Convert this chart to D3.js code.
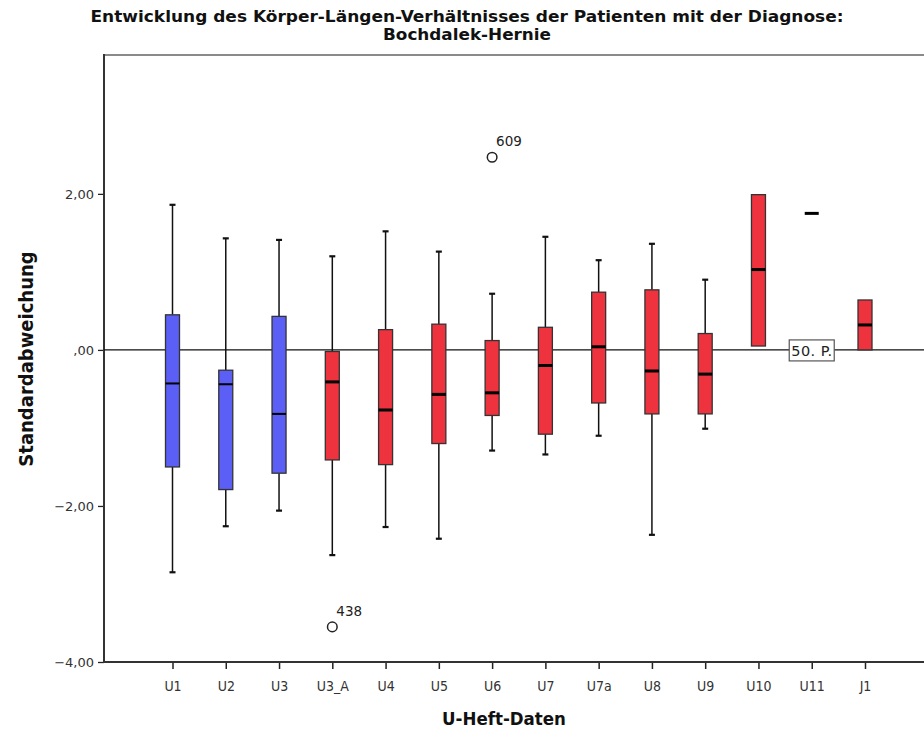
<!DOCTYPE html>
<html>
<head>
<meta charset="utf-8">
<script src="https://cdn.jsdelivr.net/npm/d3@7"></script>
<style>
  body { margin: 0; background: #fff; }
  svg text { font-family: "DejaVu Sans", sans-serif; }
</style>
</head>
<body>
<div id="chart"></div>
<script>
// U-Heft examinations
var categories = ["U1", "U2", "U3", "U3_A", "U4", "U5", "U6", "U7", "U7a", "U8", "U9", "U10", "U11", "J1"];
// first three boxes are blue, the rest red
var boxGroup = ["a", "a", "a", "b", "b", "b", "b", "b", "b", "b", "b", "b", "b", "b"];

// box plot statistics (standard deviation scores), null = not drawn
var whiskerHigh = [1.86, 1.43, 1.41, 1.20, 1.52, 1.26, 0.72, 1.45, 1.15, 1.36, 0.90, null, null, null];
var q3Values = [0.45, -0.26, 0.43, -0.02, 0.26, 0.33, 0.12, 0.29, 0.74, 0.77, 0.21, 1.99, null, 0.64];
var medianValues = [-0.43, -0.44, -0.82, -0.41, -0.77, -0.57, -0.55, -0.20, 0.04, -0.27, -0.31, 1.03, 1.75, 0.32];
var q1Values = [-1.50, -1.79, -1.58, -1.41, -1.47, -1.20, -0.84, -1.08, -0.68, -0.82, -0.82, 0.05, null, 0.00];
var whiskerLow = [-2.85, -2.26, -2.06, -2.63, -2.27, -2.42, -1.29, -1.34, -1.10, -2.37, -1.01, null, null, null];

// outliers
var outlierCats = ["U3_A", "U6"];
var outlierValues = [-3.55, 2.47];
var outlierIds = ["438", "609"];

var yTicks = [-4, -2, 0, 2];
var refValue = 0;

function drawChart() {
    var svgWidth = 924, svgHeight = 734;
    var margin = { left: 104, top: 55, bottom: 662, right: 924 };
    var condensed = "'DejaVu Sans Condensed', 'DejaVu Sans', sans-serif";

    var svg = d3.select("#chart").append("svg")
        .attr("width", svgWidth)
        .attr("height", svgHeight);

    var x = d3.scalePoint()
        .domain(categories)
        .range([172.5, 865]);

    var y = d3.scaleLinear()
        .domain([-4, 3.78])
        .range([margin.bottom, margin.top]);

    var colors = { a: "#5b5ff6", b: "#ee333f" };
    var fmt = function (v) {
        var s = d3.format(".2f")(v).replace(".", ",");
        return s.replace(/^0,/, ",").replace(/^-0,/, "-,");
    };

    // title
    var titleLines = ["Entwicklung des Körper-Längen-Verhältnisses der Patienten mit der Diagnose:", "Bochdalek-Hernie"];
    var titleLengths = [753, 168];
    titleLines.forEach(function (t, i) {
        svg.append("text")
            .attr("x", 467).attr("y", 22 + i * 18)
            .attr("text-anchor", "middle")
            .style("font-family", condensed)
            .attr("font-weight", "bold")
            .attr("font-size", "15.5px")
            .attr("fill", "#111")
            .attr("textLength", titleLengths[i])
            .attr("lengthAdjust", "spacingAndGlyphs")
            .text(t);
    });

    // frame: grey top line
    svg.append("line")
        .attr("x1", margin.left).attr("x2", margin.right)
        .attr("y1", margin.top).attr("y2", margin.top)
        .attr("stroke", "#8a8a8a").attr("stroke-width", 2);

    // y axis
    var yAxis = svg.append("g")
        .attr("transform", `translate(${margin.left},0)`)
        .call(d3.axisLeft(y).tickValues(yTicks).tickSize(6).tickFormat(fmt));
    yAxis.select(".domain").remove();
    yAxis.selectAll("line").attr("stroke", "#222").attr("stroke-width", 1.3);
    yAxis.selectAll("text").attr("font-size", "13px").attr("fill", "#333").attr("dx", "-1");
    svg.append("line")
        .attr("x1", margin.left).attr("x2", margin.left)
        .attr("y1", margin.top - 1).attr("y2", margin.bottom)
        .attr("stroke", "#333").attr("stroke-width", 2);

    // x axis
    var xAxis = svg.append("g")
        .attr("transform", `translate(0,${margin.bottom})`)
        .call(d3.axisBottom(x).tickSize(7).tickPadding(12));
    xAxis.select(".domain").remove();
    xAxis.selectAll("line").attr("stroke", "#222").attr("stroke-width", 1.5);
    xAxis.selectAll("text")
        .attr("font-size", "14px").attr("fill", "#333")
        .style("font-family", condensed);
    svg.append("line")
        .attr("x1", margin.left - 1).attr("x2", margin.right)
        .attr("y1", margin.bottom).attr("y2", margin.bottom)
        .attr("stroke", "#333").attr("stroke-width", 2);

    // axis titles
    svg.append("text")
        .attr("x", 504).attr("y", 725)
        .attr("text-anchor", "middle")
        .style("font-family", condensed)
        .attr("font-weight", "bold").attr("font-size", "18.5px").attr("fill", "#111")
        .text("U-Heft-Daten");

    svg.append("text")
        .attr("transform", `translate(33,359) rotate(-90)`)
        .attr("text-anchor", "middle")
        .style("font-family", condensed)
        .attr("font-weight", "bold").attr("font-size", "20px").attr("fill", "#111")
        .text("Standardabweichung");

    // build rows for the boxes
    var rows = categories.map((c, i) => ({
        cat: c, group: boxGroup[i],
        hi: whiskerHigh[i], q3: q3Values[i], med: medianValues[i],
        q1: q1Values[i], lo: whiskerLow[i]
    }));

    var boxW = 14, capW = 6;
    var plot = svg.append("g");

    // whiskers
    rows.filter(d => d.hi != null).forEach(function (d) {
        var cx = x(d.cat);
        plot.append("line").attr("x1", cx).attr("x2", cx)
            .attr("y1", y(d.hi)).attr("y2", y(d.q3))
            .attr("stroke", "#111").attr("stroke-width", 1.5);
        plot.append("line").attr("x1", cx).attr("x2", cx)
            .attr("y1", y(d.q1)).attr("y2", y(d.lo))
            .attr("stroke", "#111").attr("stroke-width", 1.5);
        [d.hi, d.lo].forEach(function (v) {
            plot.append("line")
                .attr("x1", cx - capW / 2).attr("x2", cx + capW / 2)
                .attr("y1", y(v)).attr("y2", y(v))
                .attr("stroke", "#111").attr("stroke-width", 2.2);
        });
    });

    // reference line (50. percentile)
    svg.append("line")
        .attr("x1", margin.left).attr("x2", margin.right)
        .attr("y1", y(refValue)).attr("y2", y(refValue))
        .attr("stroke", "#111").attr("stroke-width", 1.4);

    // boxes drawn above the reference line
    var boxes = svg.append("g");
    boxes.selectAll("rect.box")
        .data(rows.filter(d => d.q3 != null))
        .enter().append("rect")
        .attr("class", "box")
        .attr("x", d => x(d.cat) - boxW / 2)
        .attr("width", boxW)
        .attr("y", d => y(d.q3))
        .attr("height", d => y(d.q1) - y(d.q3))
        .attr("fill", d => colors[d.group])
        .attr("stroke", "#333")
        .attr("stroke-width", 1.3);

    // medians
    boxes.selectAll("line.med")
        .data(rows)
        .enter().append("line")
        .attr("class", "med")
        .attr("x1", d => x(d.cat) - boxW / 2)
        .attr("x2", d => x(d.cat) + boxW / 2)
        .attr("y1", d => y(d.med))
        .attr("y2", d => y(d.med))
        .attr("stroke", "#000")
        .attr("stroke-width", d => d.group === "a" ? 2 : 3);

    // outliers
    outlierCats.forEach(function (c, i) {
        var cx = x(c), cy = y(outlierValues[i]);
        svg.append("circle")
            .attr("cx", cx).attr("cy", cy).attr("r", 4.8)
            .attr("fill", "none").attr("stroke", "#222").attr("stroke-width", 1.5);
        svg.append("text")
            .attr("x", cx + 4).attr("y", cy - 11)
            .attr("font-size", "13.5px").attr("fill", "#222")
            .text(outlierIds[i]);
    });

    // 50. P. label on reference line
    var lab = svg.append("g")
        .attr("transform", `translate(${x("U11")},${y(refValue)})`);
    lab.append("rect")
        .attr("x", -22.5).attr("y", -10).attr("width", 45).attr("height", 21)
        .attr("fill", "#fff").attr("stroke", "#555").attr("stroke-width", 1.2);
    lab.append("text")
        .attr("text-anchor", "middle").attr("y", 6)
        .attr("font-size", "14.5px").attr("fill", "#222")
        .attr("textLength", 41).attr("lengthAdjust", "spacing")
        .text("50. P.");
}

drawChart();
</script>
</body>
</html>
